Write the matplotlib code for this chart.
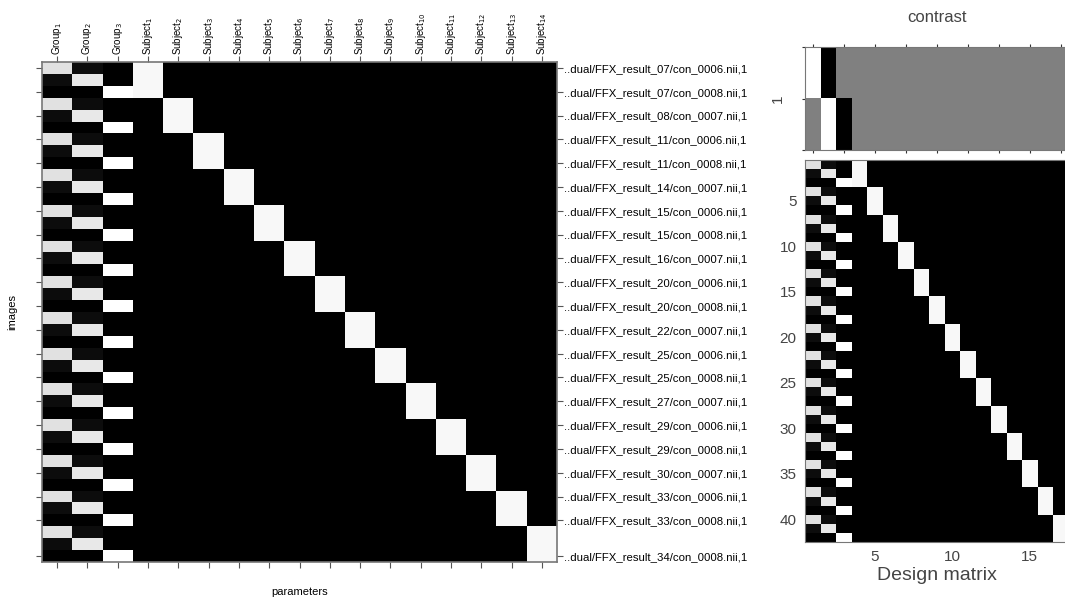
import numpy as np
import matplotlib
matplotlib.use("Agg")
import matplotlib.pyplot as plt

plt.rcParams['font.family'] = ['Liberation Sans Narrow', 'Liberation Sans', 'DejaVu Sans']
plt.rcParams['mathtext.fontset'] = 'custom'
plt.rcParams['mathtext.rm'] = 'Liberation Sans Narrow'
plt.rcParams['mathtext.it'] = 'Liberation Sans Narrow'

# ---- data ---------------------------------------------------------------
subjects   = ["07", "08", "11", "14", "15", "16", "20", "22", "25", "27", "29", "30", "33", "34"]
cons       = ["con_0006", "con_0007", "con_0008"]
groups     = ["Group_1", "Group_2", "Group_3"]
# display grey level of each group column when "on" (as seen in the picture)
group_on   = [0.88, 0.91, 1.0]
subject_on = 0.97
# F-contrast (2 rows) over the 17 columns
contrast = np.zeros((2, 17))
contrast[0, :2] = [1, -1]
contrast[1, 1:3] = [1, -1]

n_img = len(subjects) * len(cons)
n_col = len(groups) + len(subjects)
X = np.zeros((n_img, n_col))
for s in range(len(subjects)):
    for c in range(len(cons)):
        r = s * len(cons) + c
        X[r, c] = group_on[c]
        X[r, len(groups) + s] = subject_on
        if c == 1:
            X[r, 0] = 0.05
        if c == 0:
            X[r, 1] = 0.05

img_names = [f"..dual/FFX_result_{s}/{c}.nii,1" for s in subjects for c in cons]
col_names = [r"Group$_{%d}$" % (i + 1) for i in range(len(groups))] + \
            [r"Subject$_{%d}$" % (i + 1) for i in range(len(subjects))]
row_ticks = list(range(0, n_img - 2, 2)) + [n_img - 1]

# ---- figure ---------------------------------------------------------------
fig = plt.figure(figsize=(10.65, 5.98), dpi=100)
fig.patch.set_facecolor("white")

# left: full design matrix with file names
ax = fig.add_axes([42/1065, 1-562/598, 515/1065, 500/598])
ax.imshow(X, cmap="gray", vmin=0, vmax=1, aspect="auto", interpolation="nearest")
ax.set_xticks(range(n_col))
ax.set_xticklabels(col_names, rotation=90, fontsize=7)
ax.set_yticks(row_ticks)
ax.set_yticklabels([img_names[i] for i in row_ticks], fontsize=8.2)
ax.tick_params(axis="x", top=True, bottom=True, labeltop=True, labelbottom=False,
               length=4, width=0.8, color="#555555", pad=1)
ax.tick_params(axis="y", left=True, right=True, labelleft=False, labelright=True,
               length=4, width=0.8, color="#555555", pad=1)
ax.set_xlabel("parameters", fontsize=8, labelpad=14)
ax.xaxis.set_label_position("bottom")
ax.set_ylabel("images", fontsize=8, labelpad=14)
for sp in ax.spines.values():
    sp.set_edgecolor("#777777")
    sp.set_linewidth(1.2)

grey = "#444444"

# contrast panel
axc = fig.add_axes([805/1065, 1-150/598, 263.5/1065, 103/598])
axc.imshow(contrast, cmap="gray", vmin=-1, vmax=1, aspect="auto", interpolation="nearest")
axc.set_xticks(range(0, n_col, 2))
axc.set_xticklabels([])
axc.set_yticks([-0.5, 0.5, 1.5])
axc.set_yticklabels(["", "1", ""], rotation=90, va="center", fontsize=11, color=grey)
axc.tick_params(axis="x", top=True, bottom=True, direction="out", length=2.5, color="#333333")
axc.tick_params(axis="y", left=True, direction="out", length=2.5, color="#333333", pad=12)
axc.set_title("contrast", fontsize=12, color=grey, pad=18, family="Liberation Sans")
for sp in axc.spines.values():
    sp.set_edgecolor("#777777")

# design matrix panel
axd = fig.add_axes([805/1065, 1-542/598, 263.5/1065, 382/598])
axd.imshow(X, cmap="gray", vmin=0, vmax=1, aspect="auto", interpolation="nearest")
axd.set_xticks([4, 9, 14])
axd.set_xticklabels(["5", "10", "15"], fontsize=11, color=grey, family="Liberation Sans")
axd.set_yticks(range(4, n_img, 5))
axd.set_yticklabels([str(i + 1) for i in range(4, n_img, 5)], fontsize=11, color=grey,
                    family="Liberation Sans")
axd.tick_params(length=0, pad=6)
axd.set_xlabel("Design matrix", fontsize=14, color=grey, family="Liberation Sans", labelpad=2)
for sp in axd.spines.values():
    sp.set_edgecolor("#777777")

fig.savefig("out.png", dpi=100)
